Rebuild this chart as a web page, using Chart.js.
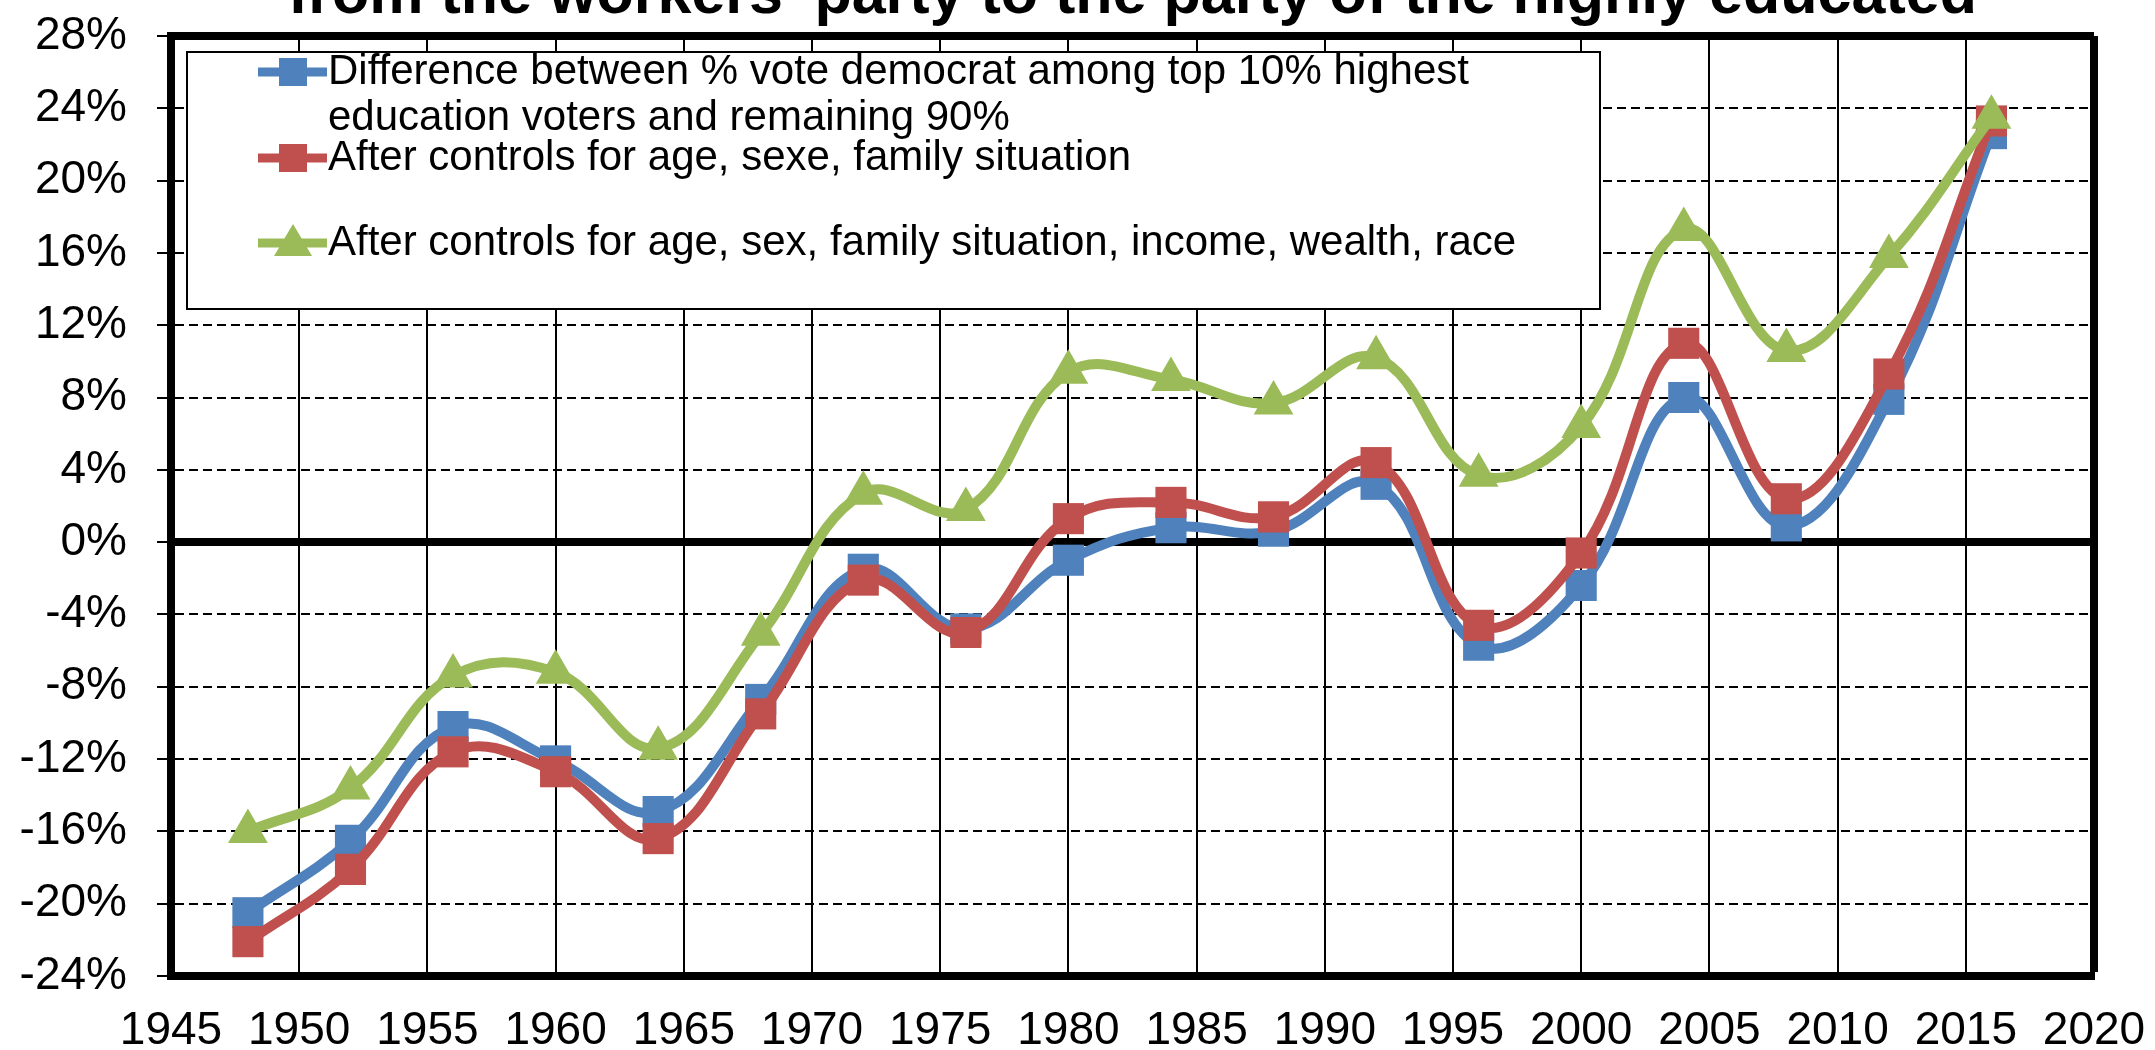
<!DOCTYPE html>
<html>
<head>
<meta charset="utf-8">
<script src="https://cdn.jsdelivr.net/npm/chart.js"></script>
<title>Education gap in the democrat vote</title>
<style>
  body { margin: 0; background: #fff; }
  #chart { display: block; }
</style>
</head>
<body>
<canvas id="chart" width="2155" height="1050"></canvas>
<script>
// election years
const years = [1948, 1952, 1956, 1960, 1964, 1968, 1972, 1976, 1980, 1984, 1988, 1992, 1996, 2000, 2004, 2008, 2012, 2016]

// % vote gap
const gapRaw = [-20.5, -16.5, -10.2, -12.1, -14.9, -8.7, -1.5, -4.8, -1.0, 0.8, 0.6, 3.2, -5.7, -2.4, 8.0, 0.9, 7.9, 22.6]
const gapAgeSex = [-22.1, -18.1, -11.6, -12.7, -16.4, -9.5, -2.1, -5.0, 1.3, 2.2, 1.4, 4.4, -4.6, -0.6, 11.0, 2.4, 9.3, 23.3]
const gapAllControls = [-16.0, -13.6, -7.4, -7.2, -11.4, -5.1, 2.7, 1.8, 9.4, 9.0, 7.7, 10.2, 3.7, 6.4, 17.3, 10.6, 15.8, 23.5]

const seriesNames = [
    ['Difference between % vote democrat among top 10% highest', 'education voters and remaining 90%'],
    ['After controls for age, sexe, family situation'],
    ['After controls for age, sex, family situation, income, wealth, race']
]

const xTicks = [1945, 1950, 1955, 1960, 1965, 1970, 1975, 1980, 1985, 1990, 1995, 2000, 2005, 2010, 2015, 2020]
const yTicks = [-24, -20, -16, -12, -8, -4, 0, 4, 8, 12, 16, 20, 24, 28]

const chartTitle = "from the workers' party to the party of the highly educated"

const FONT = "'Liberation Sans', Arial, sans-serif"
const colors = ['#4F81BD', '#C0504D', '#9BBB59']
const markers = ['rect', 'rect', 'triangle']

Chart.defaults.font.family = FONT
Chart.defaults.color = '#000'

function toPoints(values) {
    return values.map(function (v, i) {
        return { x: years[i], y: v }
    })
}

// title is partly cut off at the top of the picture
const titlePlugin = {
    id: 'cutTitle',
    afterDraw(chart) {
        const ctx = chart.ctx
        const area = chart.chartArea
        ctx.save()
        ctx.font = 'bold 61px ' + FONT
        ctx.fillStyle = '#000'
        ctx.textAlign = 'center'
        ctx.textBaseline = 'alphabetic'
        ctx.fillText(chartTitle, (area.left + area.right) / 2, 13)
        ctx.restore()
    }
}

// boxed legend inside the plot, line + marker samples
const boxLegend = {
    id: 'boxLegend',
    afterDraw(chart) {
        const ctx = chart.ctx
        ctx.save()
        ctx.fillStyle = '#fff'
        ctx.fillRect(187, 52, 1413, 257)
        ctx.strokeStyle = '#000'
        ctx.lineWidth = 2
        ctx.strokeRect(187, 52, 1413, 257)

        const rows = [72, 158, 243]
        ctx.font = '42px ' + FONT
        ctx.textBaseline = 'middle'
        ctx.textAlign = 'left'
        seriesNames.forEach(function (lines, i) {
            const y = rows[i]
            ctx.strokeStyle = colors[i]
            ctx.fillStyle = colors[i]
            ctx.lineWidth = 9
            ctx.beginPath()
            ctx.moveTo(258, y)
            ctx.lineTo(327, y)
            ctx.stroke()
            if (markers[i] === 'rect') {
                ctx.fillRect(279, y - 14, 28, 28)
            } else {
                ctx.beginPath()
                ctx.moveTo(293, y - 19)
                ctx.lineTo(312, y + 13)
                ctx.lineTo(274, y + 13)
                ctx.closePath()
                ctx.fill()
            }
            ctx.fillStyle = '#000'
            lines.forEach(function (t, j) {
                ctx.fillText(t, 328, y + j * 46)
            })
        })
        ctx.restore()
    }
}

const datasets = [gapRaw, gapAgeSex, gapAllControls].map(function (values, i) {
    return {
        label: seriesNames[i].join(' '),
        data: toPoints(values),
        borderColor: colors[i],
        backgroundColor: colors[i],
        borderWidth: 10,
        tension: 0.4,
        pointStyle: markers[i],
        pointRadius: markers[i] === 'rect' ? 22 : 23,
        pointBackgroundColor: colors[i],
        pointBorderWidth: 0,
        order: 3 - i
    }
})

new Chart(document.getElementById('chart'), {
    type: 'line',
    data: { datasets: datasets },
    plugins: [titlePlugin, boxLegend],
    options: {
        responsive: false,
        animation: false,
        layout: { padding: { top: 36, right: 61, left: 0, bottom: 0 } },
        plugins: {
            legend: { display: false },
            tooltip: { enabled: false }
        },
        scales: {
            x: {
                type: 'linear',
                min: 1945,
                max: 2020,
                afterBuildTicks: function (scale) {
                    scale.ticks = xTicks.map(function (v) { return { value: v } })
                },
                afterFit: function (scale) {
                    scale.height = 74
                    scale.paddingLeft = 0
                    scale.paddingRight = 0
                },
                ticks: {
                    font: { size: 46 },
                    padding: 28,
                    maxRotation: 0,
                    autoSkip: false,
                    callback: function (v) { return String(v) }
                },
                grid: {
                    color: '#000',
                    lineWidth: function (c) { return c.tick && c.tick.value === 2020 ? 8 : 2 },
                    drawTicks: false
                },
                border: { display: true, color: '#000', width: 8 }
            },
            y: {
                min: -24,
                max: 28,
                afterBuildTicks: function (scale) {
                    scale.ticks = yTicks.map(function (v) { return { value: v } })
                },
                afterFit: function (scale) {
                    scale.width = 171
                    scale.paddingTop = 0
                    scale.paddingBottom = 0
                },
                ticks: {
                    font: { size: 46 },
                    padding: 30,
                    callback: function (v) { return v + '%' }
                },
                grid: {
                    color: '#000',
                    lineWidth: function (c) {
                        if (!c.tick) return 2
                        return c.tick.value === 0 || c.tick.value === 28 ? 8 : 2
                    },
                    tickLength: 14,
                    tickWidth: 2,
                    tickColor: '#000',
                    tickBorderDash: []
                },
                border: {
                    display: true,
                    color: '#000',
                    width: 8,
                    dash: function (c) {
                        if (!c.tick) return []
                        return c.tick.value === 0 || c.tick.value === 28 ? [] : [9, 5]
                    }
                }
            }
        }
    }
})
</script>
</body>
</html>
